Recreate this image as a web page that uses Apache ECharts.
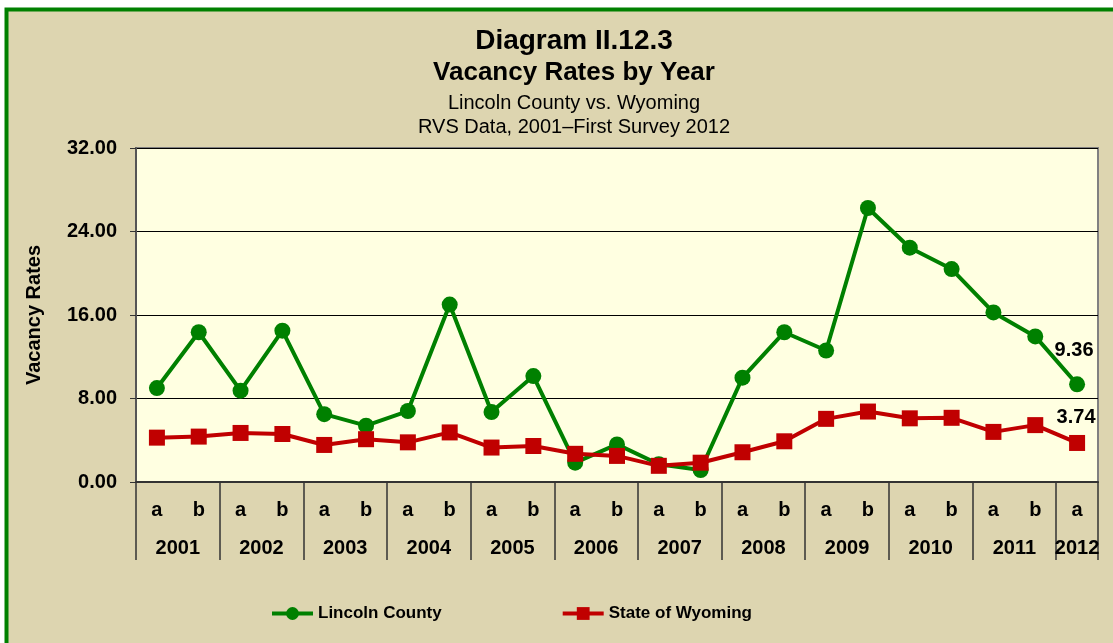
<!DOCTYPE html>
<html>
<head>
<meta charset="utf-8">
<script src="https://cdn.jsdelivr.net/npm/echarts@6/dist/echarts.min.js"></script>
<style>
  html, body { margin: 0; padding: 0; background: #fff; }
  #main { width: 1113px; height: 643px; }
</style>
</head>
<body>
<div id="main"></div>
<script>
let myChart = echarts.init(document.getElementById('main'));

// data
let halves = ['a', 'b', 'a', 'b', 'a', 'b', 'a', 'b', 'a', 'b', 'a', 'b',
              'a', 'b', 'a', 'b', 'a', 'b', 'a', 'b', 'a', 'b', 'a'];
let years = ['2001', '2002', '2003', '2004', '2005', '2006',
             '2007', '2008', '2009', '2010', '2011', '2012'];
let lincoln = [9.0, 14.35, 8.75, 14.5, 6.5, 5.4, 6.8, 17.0, 6.7, 10.15, 1.85, 3.6,
               1.7, 1.15, 10.0, 14.35, 12.6, 26.25, 22.45, 20.4, 16.25, 13.95, 9.36];
let wyoming = [4.25, 4.35, 4.7, 4.6, 3.55, 4.1, 3.8, 4.75, 3.3, 3.45, 2.7, 2.5,
               1.55, 1.85, 2.85, 3.9, 6.05, 6.75, 6.1, 6.15, 4.8, 5.45, 3.74];
let yTicks = {min: 0, max: 32, interval: 8};

let font = 'Arial, "Liberation Sans", sans-serif';
let last = lincoln.length - 1;

// half-slot axis for the year row: 2 slots per half-year category
let nSlots = halves.length * 2;
let yearSlots = [];
for (let k = 0; k <= nSlots; k++) yearSlots.push('');
years.forEach((y, j) => {
    let n = Math.min(2, halves.length - j * 2); // halves in this year
    yearSlots[j * 4 + n] = y;
});

function withLastLabel(arr, offset) {
    return arr.map((v, i) => i === last ? {
        value: v,
        label: {
            show: true, position: 'top', distance: 0, offset: offset,
            formatter: p => p.value.toFixed(2),
            fontFamily: font, fontWeight: 'bold', fontSize: 20, color: '#000'
        }
    } : v);
}

let option = {
    animation: false,
    backgroundColor: '#fff',
    graphic: [{
        type: 'rect', z: -10,
        shape: {x: 6.5, y: 9.5, width: 1200, height: 700},
        style: {fill: '#DDD5B0', stroke: '#008000', lineWidth: 4}
    }],
    title: [
        {text: 'Diagram II.12.3', left: 569, top: 22, textAlign: 'center',
         textStyle: {fontFamily: font, fontWeight: 'bold', fontSize: 28, color: '#000'}},
        {text: 'Vacancy Rates by Year', left: 569, top: 55, textAlign: 'center',
         textStyle: {fontFamily: font, fontWeight: 'bold', fontSize: 26, color: '#000'}},
        {text: 'Lincoln County vs. Wyoming', left: 569, top: 88, textAlign: 'center',
         textStyle: {fontFamily: font, fontWeight: 'normal', fontSize: 20, color: '#000'}},
        {text: 'RVS Data, 2001\u2013First Survey 2012', left: 569, top: 112, textAlign: 'center',
         textStyle: {fontFamily: font, fontWeight: 'normal', fontSize: 20, color: '#000'}}
    ],
    legend: {
        left: 265, top: 600,
        itemWidth: 41, itemHeight: 16, itemGap: 119,
        itemTextGap: 4,
        lineStyle: {width: 4},
        textStyle: {fontFamily: font, fontWeight: 'bold', fontSize: 17, color: '#000'},
        data: ['Lincoln County', 'State of Wyoming']
    },
    grid: {
        left: 136, right: 15, top: 148, bottom: 161,
        outerBoundsMode: 'none',
        show: true, backgroundColor: '#FFFFE1',
        borderColor: '#808080', borderWidth: 2
    },
    xAxis: [{
        type: 'category',
        data: halves,
        boundaryGap: true,
        axisLine: {lineStyle: {color: '#333', width: 2}},
        axisTick: {interval: 0, length: 40, lineStyle: {color: '#333', width: 1.5}},
        axisLabel: {interval: 0, margin: 18, fontFamily: font, fontWeight: 'bold',
                    fontSize: 20, color: '#000'}
    }, {
        type: 'category',
        position: 'bottom',
        data: yearSlots,
        boundaryGap: false,
        axisLine: {show: false},
        axisTick: {
            interval: i => i % 4 === 0 || i === nSlots,
            length: 78, lineStyle: {color: '#333', width: 1.5}
        },
        axisLabel: {
            interval: (i, v) => v !== '',
            margin: 56, fontFamily: font, fontWeight: 'bold', fontSize: 20, color: '#000'
        }
    }],
    yAxis: {
        type: 'value',
        min: yTicks.min, max: yTicks.max, interval: yTicks.interval,
        name: 'Vacancy Rates',
        nameLocation: 'middle',
        nameGap: 92,
        nameTextStyle: {fontFamily: font, fontWeight: 'bold', fontSize: 20, color: '#000'},
        axisLine: {show: true, lineStyle: {color: '#555', width: 2}},
        axisTick: {show: true, length: 6, lineStyle: {color: '#333'}},
        axisLabel: {
            margin: 19, formatter: v => v.toFixed(2),
            fontFamily: font, fontWeight: 'bold', fontSize: 20, color: '#000'
        },
        splitLine: {lineStyle: {color: '#000', width: 1}}
    },
    series: [{
        name: 'Lincoln County',
        type: 'line',
        data: withLastLabel(lincoln, [-3, -16]),
        color: '#008000',
        lineStyle: {width: 4},
        symbol: 'circle', symbolSize: 16,
        itemStyle: {color: '#008000'}
    }, {
        name: 'State of Wyoming',
        type: 'line',
        data: withLastLabel(wyoming, [-1, -7]),
        color: '#C00000',
        lineStyle: {width: 4},
        symbol: 'rect', symbolSize: 16,
        itemStyle: {color: '#C00000'}
    }]
};

myChart.setOption(option);
</script>
</body>
</html>
